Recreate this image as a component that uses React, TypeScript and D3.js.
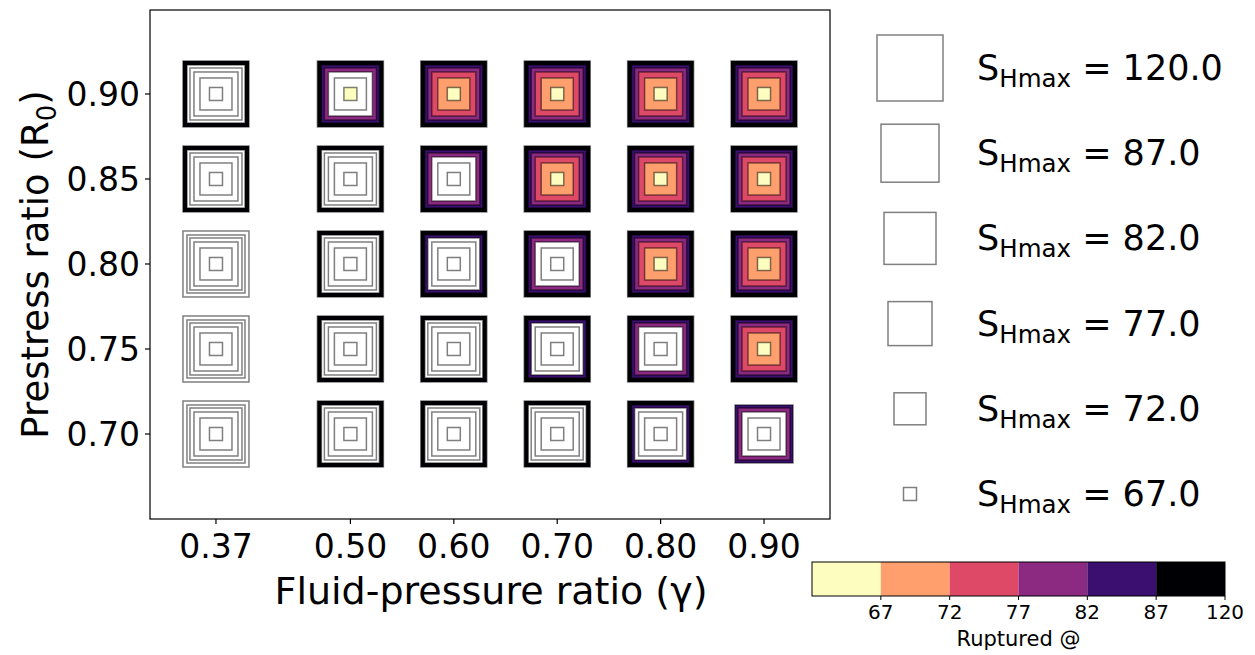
import React from "react";
import * as d3 from "d3";

const gammas = [0.37, 0.5, 0.6, 0.7, 0.8, 0.9];
const prestress = [0.7, 0.75, 0.8, 0.85, 0.9];
const shmaxLevels = [120, 87, 82, 77, 72, 67];
const colorbarTicks = [67, 72, 77, 82, 87, 120];

// rupture flags per SHmax level: rows = prestress (0.70 -> 0.90), cols = gammas
// 1 = ruptured, 0 = not ruptured, -1 = no run
const rupture120 = [
  [0, 1, 1, 1, 1, -1],
  [0, 1, 1, 1, 1, 1],
  [0, 1, 1, 1, 1, 1],
  [1, 1, 1, 1, 1, 1],
  [1, 1, 1, 1, 1, 1],
];
const rupture87 = [
  [0, 0, 0, 0, 1, 1],
  [0, 0, 0, 1, 1, 1],
  [0, 0, 1, 1, 1, 1],
  [0, 0, 1, 1, 1, 1],
  [0, 1, 1, 1, 1, 1],
];
const rupture82 = [
  [0, 0, 0, 0, 0, 1],
  [0, 0, 0, 0, 1, 1],
  [0, 0, 0, 1, 1, 1],
  [0, 0, 1, 1, 1, 1],
  [0, 1, 1, 1, 1, 1],
];
const rupture77 = [
  [0, 0, 0, 0, 0, 0],
  [0, 0, 0, 0, 0, 1],
  [0, 0, 0, 0, 1, 1],
  [0, 0, 0, 1, 1, 1],
  [0, 0, 1, 1, 1, 1],
];
const rupture72 = [
  [0, 0, 0, 0, 0, 0],
  [0, 0, 0, 0, 0, 1],
  [0, 0, 0, 0, 1, 1],
  [0, 0, 0, 1, 1, 1],
  [0, 0, 1, 1, 1, 1],
];
const rupture67 = [
  [0, 0, 0, 0, 0, 0],
  [0, 0, 0, 0, 0, 1],
  [0, 0, 0, 0, 1, 1],
  [0, 0, 0, 1, 1, 1],
  [0, 1, 1, 1, 1, 1],
];
const ruptureByLevel = [rupture120, rupture87, rupture82, rupture77, rupture72, rupture67];

const FONT = "DejaVu Sans";

export default function App() {
  const W = 1255, H = 655;
  const ax = { left: 150, right: 830, top: 10, bottom: 519 };
  const x = d3.scaleLinear().domain([0.3062, 0.9638]).range([ax.left, ax.right]);
  const y = d3.scaleLinear().domain([0.65, 0.9494]).range([ax.bottom, ax.top]);
  const size = d3.scaleOrdinal<number, number>().domain(shmaxLevels).range([66, 58, 52, 44, 32, 13]);
  const color = d3
    .scaleOrdinal<number, string>()
    .domain(shmaxLevels)
    .range(shmaxLevels.map((_, i) => d3.interpolateMagma(i / (shmaxLevels.length - 1))));
  const edge = "rgba(0,0,0,0.5)";

  const marks: JSX.Element[] = [];
  shmaxLevels.forEach((lev, li) => {
    const grid = ruptureByLevel[li];
    prestress.forEach((r, ri) => {
      gammas.forEach((g, gi) => {
        const st = grid[ri][gi];
        if (st < 0) return;
        const w = size(lev);
        marks.push(
          <rect
            key={`${lev}-${ri}-${gi}`}
            x={x(g) - w / 2}
            y={y(r) - w / 2}
            width={w}
            height={w}
            fill={st === 1 ? color(lev) : "#ffffff"}
            stroke={edge}
            strokeWidth={1.5}
          />
        );
      });
    });
  });

  // legend
  const legendX = 910;
  const legendY = d3.scalePoint<number>().domain(shmaxLevels).range([68, 494]);

  // colorbar
  const cb = { left: 812, right: 1225, top: 562, bottom: 596 };
  const cbBand = d3.scaleBand<number>().domain(colorbarTicks).range([cb.left, cb.right]).paddingInner(0).paddingOuter(0);
  const cbColors = [...shmaxLevels].reverse();

  return (
    <svg width={W} height={H} style={{ position: "absolute", left: 0, top: 0, background: "#fff" }} fontFamily={FONT}>
      <rect x={0} y={0} width={W} height={H} fill="#fff" />
      {marks}
      <rect x={ax.left} y={ax.top} width={ax.right - ax.left} height={ax.bottom - ax.top} fill="none" stroke="#000" strokeWidth={1.2} />
      {/* y ticks */}
      {prestress.map((r) => (
        <g key={r}>
          <line x1={ax.left - 5} x2={ax.left} y1={y(r)} y2={y(r)} stroke="#000" strokeWidth={1.2} />
          <text x={ax.left - 10} y={y(r)} dy="0.36em" textAnchor="end" fontSize={33}>
            {d3.format(".2f")(r)}
          </text>
        </g>
      ))}
      {/* x ticks */}
      {gammas.map((g) => (
        <g key={g}>
          <line x1={x(g)} x2={x(g)} y1={ax.bottom} y2={ax.bottom + 5} stroke="#000" strokeWidth={1.2} />
          <text x={x(g)} y={558} textAnchor="middle" fontSize={33}>
            {d3.format(".2f")(g)}
          </text>
        </g>
      ))}
      <text x={491} y={604} textAnchor="middle" fontSize={38}>
        Fluid-pressure ratio (γ)
      </text>
      <text transform={`translate(48, ${(ax.top + ax.bottom) / 2}) rotate(-90)`} textAnchor="middle" fontSize={37}>
        Prestress ratio (R<tspan fontSize={26} dy={8}>0</tspan>
        <tspan dy={-8}>)</tspan>
      </text>
      {/* legend */}
      {shmaxLevels.map((lev) => {
        const w = size(lev);
        const cy = legendY(lev)!;
        return (
          <g key={lev}>
            <rect x={legendX - w / 2} y={cy - w / 2} width={w} height={w} fill="#fff" stroke={edge} strokeWidth={1.5} />
            <text x={977} y={cy + 12} fontSize={35}>
              S<tspan fontSize={24.5} dy={7}>Hmax</tspan>
              <tspan dy={-7}>{` = ${lev.toFixed(1)}`}</tspan>
            </text>
          </g>
        );
      })}
      {/* colorbar */}
      {colorbarTicks.map((t, i) => (
        <rect key={t} x={cbBand(t)!} y={cb.top} width={cbBand.bandwidth()} height={cb.bottom - cb.top} fill={color(cbColors[i])} />
      ))}
      <rect x={cb.left} y={cb.top} width={cb.right - cb.left} height={cb.bottom - cb.top} fill="none" stroke="#000" strokeWidth={1} />
      {colorbarTicks.map((t) => {
        const tx = cbBand(t)! + cbBand.bandwidth();
        return (
          <g key={t}>
            <line x1={tx} x2={tx} y1={cb.bottom} y2={cb.bottom + 4} stroke="#000" strokeWidth={1} />
            <text x={tx} y={619} textAnchor="middle" fontSize={20}>
              {t}
            </text>
          </g>
        );
      })}
      <text x={(cb.left + cb.right) / 2} y={646} textAnchor="middle" fontSize={21}>
        Ruptured @
      </text>
    </svg>
  );
}
